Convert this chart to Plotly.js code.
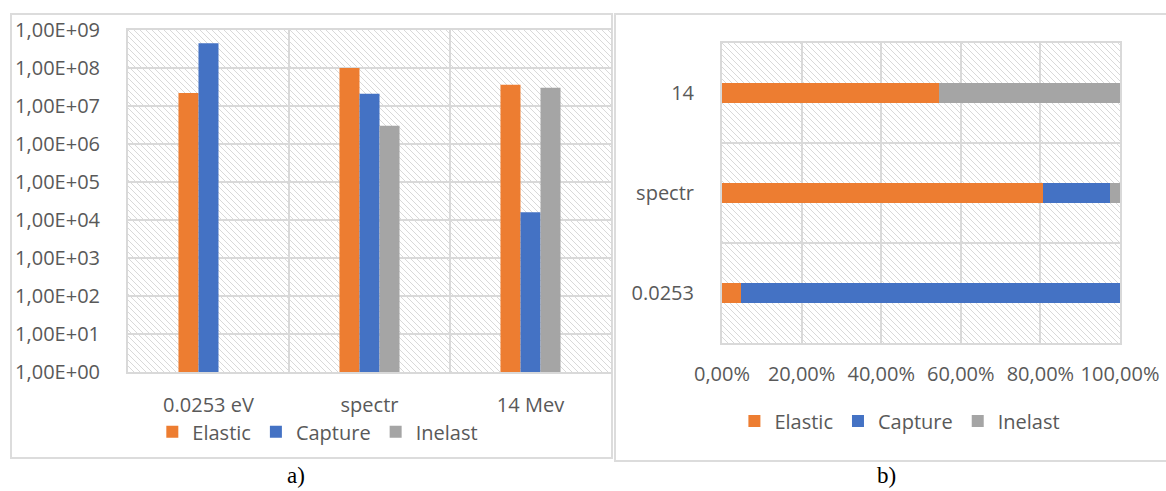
<!DOCTYPE html>
<html>
<head>
<meta charset="utf-8">
<script src="https://cdn.plot.ly/plotly-3.0.1.min.js"></script>
<style>
  html, body { margin:0; padding:0; background:#fff; width:1166px; height:491px; overflow:hidden; }
  .panel { position:absolute; box-sizing:border-box; border:2px solid #dcdcdc; background:#fff; }
  .hatch { position:absolute; background-color:#fff;
    background-image:url("data:image/svg+xml,%3Csvg xmlns='http://www.w3.org/2000/svg' width='6' height='6'%3E%3Cpath d='M0,0L6,6M-1,5L1,7M5,-1L7,1' stroke='%23d9d9d9' stroke-width='1'/%3E%3C/svg%3E");
    background-repeat:repeat; }
  .plot { position:absolute; }
  .cap { position:absolute; font-family:"Liberation Serif","DejaVu Serif",serif; font-size:23px; color:#000; }
</style>
</head>
<body>
<div class="panel" style="left:10px;top:13px;width:603px;height:446px;"></div>
<div class="panel" style="left:614px;top:13px;width:560px;height:449px;"></div>
<div class="hatch" style="left:128px;top:30px;width:483px;height:342px;"></div>
<div class="hatch" style="left:722px;top:43px;width:398px;height:300px;"></div>
<div id="chartA" class="plot" style="left:11px;top:14px;width:601px;height:444px;"></div>
<div id="chartB" class="plot" style="left:615px;top:14px;width:551px;height:447px;"></div>
<div class="cap" style="left:287px;top:463px;">a)</div>
<div class="cap" style="left:877px;top:463px;">b)</div>
<script>
// ---- data ----
const categoriesA = ['0.0253 eV', 'spectr', '14 Mev'];
const categoriesB = ['0.0253', 'spectr', '14'];
const seriesNames = ['Elastic', 'Capture', 'Inelast'];
const elastic = [2.2e7, 1.0e8, 3.6e7];
const capture = [4.45e8, 2.1e7, 1.6e4];
const inelast = [null, 3.0e6, 3.0e7];
const logTickVals = [1, 10, 100, 1e3, 1e4, 1e5, 1e6, 1e7, 1e8, 1e9];
const logTickText = ['1,00E+00', '1,00E+01', '1,00E+02', '1,00E+03', '1,00E+04',
                     '1,00E+05', '1,00E+06', '1,00E+07', '1,00E+08', '1,00E+09'];
const pctTickVals = [0, 20, 40, 60, 80, 100];
const pctTickText = ['0,00%', '20,00%', '40,00%', '60,00%', '80,00%', '100,00%'];
const colors = ['#ED7D31', '#4472C4', '#A5A5A5'];
const values = [elastic, capture, inelast];

const FONT = '"Open Sans", "Noto Sans", sans-serif';
const TXT = '#595959';
const GRID = '#d9d9d9';

// ---- chart a ----
const tracesA = seriesNames.map((n, i) => ({
  type: 'bar', name: n, x: categoriesA, y: values[i],
  marker: { color: colors[i], line: { width: 0 } }
}));
const layoutA = {
  width: 601, height: 444,
  margin: { l: 117, r: 1, t: 16, b: 86, pad: 0 },
  paper_bgcolor: 'rgba(0,0,0,0)', plot_bgcolor: 'rgba(0,0,0,0)',
  font: { family: FONT, size: 20, color: TXT },
  barmode: 'group', bargap: 0.627, bargroupgap: 0,
  xaxis: {
    type: 'category', tickson: 'boundaries', ticklen: 0, showgrid: true,
    gridcolor: GRID, gridwidth: 2, showline: true, mirror: true, linecolor: GRID, linewidth: 2,
    tickfont: { family: FONT, size: 20, color: TXT }, ticklabelstandoff: 14, fixedrange: true
  },
  yaxis: {
    type: 'log', range: [0, 9], tickvals: logTickVals, ticktext: logTickText,
    showgrid: true, gridcolor: GRID, gridwidth: 2, showline: true, mirror: true,
    linecolor: GRID, linewidth: 2, ticklen: 0, zeroline: false,
    tickfont: { family: FONT, size: 20, color: TXT }, ticklabelstandoff: 22, fixedrange: true
  },
  showlegend: true,
  legend: {
    orientation: 'h', traceorder: 'normal', x: 0.393, xanchor: 'center', y: -0.175, yanchor: 'middle',
    font: { family: FONT, size: 20, color: TXT }, bgcolor: 'rgba(0,0,0,0)', itemwidth: 30
  }
};
Plotly.newPlot('chartA', tracesA, layoutA, { displayModeBar: false, staticPlot: true });

// ---- chart b ----
const tracesB = seriesNames.map((n, i) => ({
  type: 'bar', orientation: 'h', name: n, y: categoriesB, x: values[i],
  marker: { color: colors[i], line: { width: 0 } }
}));
const layoutB = {
  width: 551, height: 447,
  margin: { l: 107, r: 46, t: 29, b: 118, pad: 0 },
  paper_bgcolor: 'rgba(0,0,0,0)', plot_bgcolor: 'rgba(0,0,0,0)',
  font: { family: FONT, size: 20, color: TXT },
  barmode: 'stack', barnorm: 'percent', bargap: 0.8,
  xaxis: {
    range: [0, 100], tickvals: pctTickVals, ticktext: pctTickText, ticklen: 0,
    showgrid: true, gridcolor: GRID, gridwidth: 2, showline: true, mirror: true,
    linecolor: GRID, linewidth: 2, zeroline: false,
    tickfont: { family: FONT, size: 20, color: TXT }, ticklabelstandoff: 12, fixedrange: true
  },
  yaxis: {
    type: 'category', tickson: 'boundaries', ticklen: 0, showgrid: true,
    gridcolor: GRID, gridwidth: 2, showline: true, mirror: true, linecolor: GRID, linewidth: 2,
    tickfont: { family: FONT, size: 20, color: TXT }, ticklabelstandoff: 22, fixedrange: true
  },
  showlegend: true,
  legend: {
    orientation: 'h', traceorder: 'normal', x: 0.447, xanchor: 'center', y: -0.26, yanchor: 'middle',
    font: { family: FONT, size: 20, color: TXT }, bgcolor: 'rgba(0,0,0,0)', itemwidth: 30
  }
};
Plotly.newPlot('chartB', tracesB, layoutB, { displayModeBar: false, staticPlot: true });
</script>
</body>
</html>
